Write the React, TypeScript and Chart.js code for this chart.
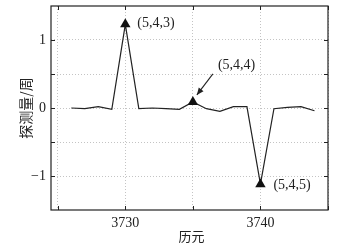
import React, { useEffect, useRef } from "react";
import { Chart, registerables } from "chart.js";

Chart.register(...registerables);

const epochs = [3726, 3727, 3728, 3729, 3730, 3731, 3732, 3733, 3734, 3735, 3736, 3737, 3738, 3739, 3740, 3741, 3742, 3743, 3744];
const values = [0.0, -0.01, 0.02, -0.02, 1.23, -0.01, 0.0, -0.01, -0.02, 0.09, -0.01, -0.05, 0.02, 0.02, -1.12, -0.01, 0.01, 0.02, -0.04];
const markerEpochs = [3730, 3735, 3740];
const markerValues = [1.23, 0.09, -1.12];
const markerLabels = ["(5,4,3)", "(5,4,4)", "(5,4,5)"];
const xTicks = [3725, 3730, 3735, 3740, 3745];
const xTickLabels = ["", "3730", "", "3740", ""];
const yTicks = [-1, -0.5, 0, 0.5, 1];
const yTickLabels = ["\u22121", "", "0", "", "1"];
const xTitle = "历元";
const yTitle = "探测量/周";

const SERIF = "'Liberation Serif', 'Times New Roman', serif";
const CJK = "'Noto Sans CJK SC', sans-serif";

const decor = {
  id: "decor",
  afterDraw(chart: any) {
    const ctx = chart.ctx;
    const { left, right, top, bottom } = chart.chartArea;
    const xs = chart.scales.x;
    const ys = chart.scales.y;
    ctx.save();
    // box
    ctx.strokeStyle = "#222";
    ctx.lineWidth = 1.2;
    ctx.strokeRect(left, top, right - left, bottom - top);
    // inward ticks
    ctx.lineWidth = 1;
    const tl = 4;
    xTicks.forEach((v) => {
      const px = Math.round(xs.getPixelForValue(v)) + 0.5;
      ctx.beginPath();
      ctx.moveTo(px, bottom);
      ctx.lineTo(px, bottom - tl);
      ctx.moveTo(px, top);
      ctx.lineTo(px, top + tl);
      ctx.stroke();
    });
    yTicks.forEach((v) => {
      const py = Math.round(ys.getPixelForValue(v)) + 0.5;
      ctx.beginPath();
      ctx.moveTo(left, py);
      ctx.lineTo(left + tl, py);
      ctx.moveTo(right, py);
      ctx.lineTo(right - tl, py);
      ctx.stroke();
    });
    // tick labels
    ctx.fillStyle = "#222";
    ctx.font = "14px " + SERIF;
    ctx.textAlign = "center";
    ctx.textBaseline = "middle";
    xTicks.forEach((v, i) => {
      if (xTickLabels[i]) ctx.fillText(xTickLabels[i], xs.getPixelForValue(v), bottom + 13);
    });
    ctx.textAlign = "right";
    yTicks.forEach((v, i) => {
      if (yTickLabels[i]) ctx.fillText(yTickLabels[i], left - 5, ys.getPixelForValue(v));
    });
    // axis titles
    ctx.font = "13px " + CJK;
    ctx.textAlign = "center";
    ctx.fillText(xTitle, (left + right) / 2 + 2, 236);
    ctx.save();
    ctx.translate(26, (top + bottom) / 2);
    ctx.rotate(-Math.PI / 2);
    ctx.font = "14px " + CJK;
    ctx.fillText(yTitle, 0, 0);
    ctx.restore();
    // annotations
    ctx.font = "14px " + SERIF;
    ctx.textAlign = "left";
    const p0x = xs.getPixelForValue(markerEpochs[0]);
    const p0y = ys.getPixelForValue(markerValues[0]);
    ctx.fillText(markerLabels[0], p0x + 12, p0y - 1);
    const p1x = xs.getPixelForValue(markerEpochs[1]);
    const p1y = ys.getPixelForValue(markerValues[1]);
    ctx.fillText(markerLabels[1], p1x + 25, p1y - 37);
    const p2x = xs.getPixelForValue(markerEpochs[2]);
    const p2y = ys.getPixelForValue(markerValues[2]);
    ctx.fillText(markerLabels[2], p2x + 13, p2y + 1);
    // arrow
    const ax0 = p1x + 20, ay0 = p1y - 28;
    const ax1 = p1x + 4, ay1 = p1y - 7;
    ctx.strokeStyle = "#222";
    ctx.lineWidth = 1.1;
    ctx.beginPath();
    ctx.moveTo(ax0, ay0);
    ctx.lineTo(ax1, ay1);
    ctx.stroke();
    const ang = Math.atan2(ay1 - ay0, ax1 - ax0);
    const hl = 7, hw = 3;
    ctx.beginPath();
    ctx.moveTo(ax1, ay1);
    ctx.lineTo(ax1 - hl * Math.cos(ang) + hw * Math.sin(ang), ay1 - hl * Math.sin(ang) - hw * Math.cos(ang));
    ctx.lineTo(ax1 - hl * Math.cos(ang) - hw * Math.sin(ang), ay1 - hl * Math.sin(ang) + hw * Math.cos(ang));
    ctx.closePath();
    ctx.fillStyle = "#222";
    ctx.fill();
    ctx.restore();
  },
};

export default function App() {
  const ref = useRef<HTMLCanvasElement>(null);
  useEffect(() => {
    document.body.style.margin = "0";
    const chart = new Chart(ref.current!, {
      type: "scatter",
      data: {
        datasets: [
          {
            type: "line",
            data: epochs.map((e, i) => ({ x: e, y: values[i] })),
            borderColor: "#222",
            borderWidth: 1.2,
            pointRadius: 0,
            tension: 0,
            order: 2,
          } as any,
          {
            data: markerEpochs.map((e, i) => ({ x: e, y: markerValues[i] })),
            pointStyle: "triangle",
            pointRadius: 6,
            backgroundColor: "#111",
            borderColor: "#111",
            borderWidth: 0,
            order: 1,
          },
        ],
      },
      options: {
        animation: false,
        responsive: false,
        layout: { padding: { left: 0, right: 20, top: 5, bottom: 0 } },
        plugins: { legend: { display: false }, tooltip: { enabled: false } },
        scales: {
          x: {
            type: "linear",
            min: 3724.5,
            max: 3745,
            afterBuildTicks: (s: any) => {
              s.ticks = xTicks.map((v) => ({ value: v }));
            },
            afterFit: (s: any) => {
              s.height = 36;
            },
            ticks: { display: false },
            border: { display: false, dash: [1, 2] },
            grid: { color: "#c4c4c4", lineWidth: 1, drawTicks: false },
          },
          y: {
            type: "linear",
            min: -1.5,
            max: 1.5,
            afterBuildTicks: (s: any) => {
              s.ticks = yTicks.map((v) => ({ value: v }));
            },
            afterFit: (s: any) => {
              s.width = 51;
            },
            ticks: { display: false },
            border: { display: false, dash: [1, 2] },
            grid: { color: "#c4c4c4", lineWidth: 1, drawTicks: false },
          },
        },
      },
      plugins: [decor],
    });
    return () => chart.destroy();
  }, []);
  return <canvas ref={ref} width={348} height={246} style={{ display: "block" }} />;
}
